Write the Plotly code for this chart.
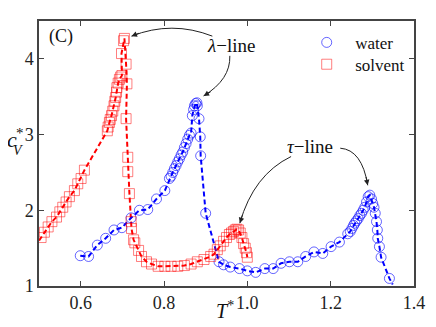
import plotly.graph_objects as go

# ---------------- data ----------------
solvent_T = [0.505, 0.513, 0.522, 0.531, 0.542, 0.550, 0.557, 0.565, 0.573, 0.585, 0.593, 0.601, 0.609,
             0.664, 0.666, 0.669, 0.671, 0.674, 0.677, 0.680, 0.682, 0.684, 0.686, 0.687, 0.690, 0.693,
             0.696, 0.699, 0.698, 0.703, 0.705,
             0.709, 0.711, 0.709, 0.713, 0.713, 0.717, 0.721, 0.722, 0.727, 0.730, 0.739, 0.746, 0.758,
             0.770, 0.786, 0.802, 0.817, 0.833, 0.849, 0.865, 0.880, 0.896, 0.912,
             0.920, 0.928, 0.935, 0.943, 0.950, 0.957, 0.962, 0.967, 0.971, 0.975, 0.979, 0.983, 0.987,
             0.991, 0.995, 0.998, 1.000]
solvent_cv = [1.64, 1.71, 1.78, 1.85, 1.91, 1.98, 2.04, 2.11, 2.18, 2.26, 2.35, 2.42, 2.53,
              3.05, 3.10, 3.16, 3.20, 3.25, 3.31, 3.38, 3.44, 3.49, 3.56, 3.62, 3.68, 3.73,
              3.76, 3.78, 4.07, 4.24, 4.27,
              3.93, 3.67, 3.21, 2.70, 2.51, 2.22, 1.85, 1.76, 1.61, 1.57, 1.47, 1.39, 1.32,
              1.29, 1.26, 1.26, 1.26, 1.26, 1.27, 1.29, 1.32, 1.35, 1.39,
              1.42, 1.48, 1.53, 1.59, 1.64, 1.68, 1.70, 1.72, 1.74, 1.75, 1.74, 1.70, 1.64,
              1.56, 1.50, 1.44, 1.38]
# start of the solvent curve at the left axis edge (line only)
solvent_line_start_T = [0.50]
solvent_line_start_cv = [1.60]

water_T = [0.599, 0.619, 0.640, 0.660, 0.680, 0.699, 0.721, 0.741, 0.761, 0.782, 0.802,
           0.813, 0.817, 0.821, 0.825, 0.829, 0.833, 0.837, 0.841, 0.845, 0.849, 0.853, 0.857,
           0.861, 0.865, 0.868, 0.871, 0.873, 0.876, 0.879, 0.880, 0.884, 0.887, 0.888, 0.900,
           0.932, 0.943, 0.959, 0.981, 1.000, 1.020, 1.042, 1.062, 1.081, 1.101, 1.121, 1.140,
           1.160, 1.181, 1.201, 1.221, 1.241, 1.247, 1.251, 1.255, 1.258, 1.262, 1.266, 1.270,
           1.274, 1.278, 1.282, 1.286, 1.290, 1.294, 1.298, 1.301, 1.304, 1.307, 1.310, 1.312,
           1.313, 1.317, 1.321, 1.341]
water_cv = [1.40, 1.39, 1.54, 1.63, 1.74, 1.77, 1.90, 2.00, 2.01, 2.15, 2.26,
            2.42, 2.45, 2.50, 2.55, 2.59, 2.64, 2.68, 2.73, 2.77, 2.83, 2.88, 2.94,
            2.99, 3.02, 3.25, 3.33, 3.38, 3.41, 3.42, 3.38, 3.21, 2.97, 2.72, 1.96,
            1.32, 1.28, 1.25, 1.23, 1.20, 1.18, 1.23, 1.23, 1.30, 1.32, 1.32, 1.39,
            1.45, 1.43, 1.52, 1.58, 1.69, 1.72, 1.76, 1.80, 1.83, 1.86, 1.89, 1.93,
            1.96, 2.00, 2.04, 2.11, 2.18, 2.20, 2.15, 2.09, 2.04, 1.96, 1.85, 1.74,
            1.63, 1.52, 1.38, 1.10]
water_line_end_T = [1.349]
water_line_end_cv = [1.02]

x_ticks = [0.6, 0.8, 1.0, 1.2, 1.4]
x_ticklabels = ["0.6", "0.8", "1.0", "1.2", "1.4"]
y_ticks = [1, 2, 3, 4]
y_ticklabels = ["1", "2", "3", "4"]

FONT = "Liberation Serif, DejaVu Serif, serif"
OFF = 8  # page body margin
W, H = 436 - OFF, 327 - OFF
ML, MR, MT, MB = 39 - OFF, 16, 19 - OFF, 41

def px2paper(px, py):
    # page pixel -> paper coords
    fx, fy = px - OFF, py - OFF
    return (fx - ML) / (W - ML - MR), (H - MB - fy) / (H - MT - MB)

fig = go.Figure()

# dashed lines (no legend)
fig.add_trace(go.Scatter(x=solvent_line_start_T + solvent_T, y=solvent_line_start_cv + solvent_cv,
                         mode="lines", line=dict(color="#ff0000", width=2, dash="5px,3px"),
                         showlegend=False, hoverinfo="skip"))
fig.add_trace(go.Scatter(x=water_T + water_line_end_T, y=water_cv + water_line_end_cv,
                         mode="lines", line=dict(color="#0000ff", width=2, dash="5px,3px"),
                         showlegend=False, hoverinfo="skip"))
# markers
fig.add_trace(go.Scatter(x=water_T, y=water_cv, mode="markers", name="\u2002water", legend="legend",
                         marker=dict(symbol="circle-open", size=10,
                                     color="rgba(0,0,255,0.6)", line=dict(width=1, color="rgba(0,0,255,0.6)"))))
fig.add_trace(go.Scatter(x=solvent_T, y=solvent_cv, mode="markers", name="\u2002solvent", legend="legend2",
                         marker=dict(symbol="square-open", size=10,
                                     color="rgba(255,0,0,0.5)", line=dict(width=1, color="rgba(255,0,0,0.5)"))))

axis_common = dict(showgrid=False, zeroline=False, showline=True, linecolor="#444", linewidth=1.5,
                   mirror="ticks", ticks="inside", ticklen=5, tickwidth=1, tickcolor="#444",
                   tickfont=dict(family=FONT, size=18, color="#222"))
fig.update_xaxes(range=[0.5, 1.4], tickvals=x_ticks, ticktext=x_ticklabels, **axis_common)
fig.update_yaxes(range=[1, 4.5], tickvals=y_ticks, ticktext=y_ticklabels, **axis_common)

# curved arrows (quadratic Bezier) in data coordinates
arrows = [
    # (start, control, end, arrowhead tail offset in px)
    ((0.916, 4.30), (0.819, 4.51), (0.722, 4.30), (9, -3.5)),
    ((0.958, 4.04), (0.960, 3.73), (0.895, 3.51), (8.5, -5)),
    ((1.105, 2.71), (1.015, 2.47), (0.982, 1.83), (3, -9.5)),
    ((1.223, 2.82), (1.275, 2.80), (1.289, 2.33), (-2, -9.8)),
]
for (s, c, e, off) in arrows:
    fig.add_shape(type="path", xref="x", yref="y",
                  path=f"M {s[0]},{s[1]} Q {c[0]},{c[1]} {e[0]},{e[1]}",
                  line=dict(color="#222", width=1))
    fig.add_annotation(x=e[0], y=e[1], xref="x", yref="y", ax=off[0], ay=off[1],
                       axref="pixel", ayref="pixel", text="", showarrow=True,
                       arrowhead=2, arrowsize=1.1, arrowwidth=1, arrowcolor="#222")

# labels
fig.add_annotation(x=0.961, y=4.17, xref="x", yref="y", text="<i>λ</i>\u2212line", showarrow=False,
                   xanchor="center", yanchor="middle", font=dict(family=FONT, size=19, color="#111"))
fig.add_annotation(x=1.150, y=2.84, xref="x", yref="y", text="<i>τ</i>\u2212line", showarrow=False,
                   xanchor="center", yanchor="middle", font=dict(family=FONT, size=19, color="#111"))
fig.add_annotation(x=0.519, y=4.29, xref="x", yref="y", text="(C)", showarrow=False,
                   xanchor="left", yanchor="middle", font=dict(family=FONT, size=18, color="#111"))

# axis labels
def lab(px, py, text, size):
    x, y = px2paper(px, py)
    fig.add_annotation(x=x, y=y, xref="paper", yref="paper", text=text, showarrow=False,
                       xanchor="center", yanchor="middle", font=dict(family=FONT, size=size, color="#111"))

lab(12, 138, "<i>c</i>", 22)
lab(20, 132, "*", 15)
lab(18, 149, "<i>V</i>", 14)
lab(228, 310, "<i>T</i><sup>*</sup>", 20)

leg_common = dict(xanchor="left", yanchor="middle", bgcolor="rgba(0,0,0,0)",
                  font=dict(family=FONT, size=17, color="#111"), itemwidth=30)
l1x, l1y = px2paper(311, 41)
l2x, l2y = px2paper(311, 63)
fig.update_layout(
    width=W, height=H, margin=dict(l=ML, r=MR, t=MT, b=MB),
    paper_bgcolor="white", plot_bgcolor="white",
    legend=dict(x=l1x, y=l1y, **leg_common),
    legend2=dict(x=l2x, y=l2y, **leg_common),
    showlegend=True,
)

fig.write_html("out.html")
